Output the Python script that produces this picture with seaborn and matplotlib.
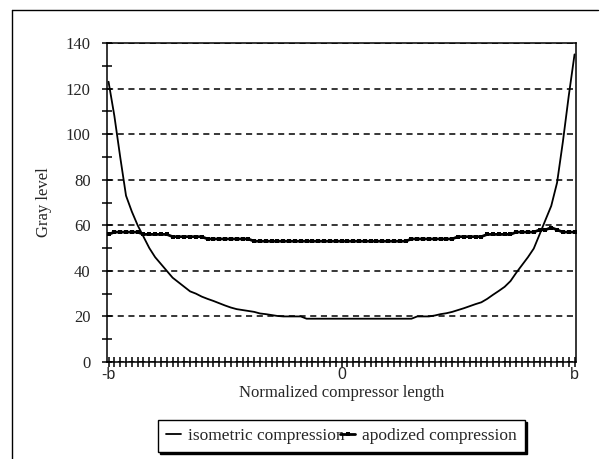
import matplotlib
matplotlib.use("Agg")
import matplotlib.pyplot as plt
import pandas as pd
import seaborn as sns
from matplotlib.lines import Line2D
from matplotlib.ticker import FixedLocator, MultipleLocator

# gray level along the compressor, one value per category tick (-b .. b)
isometric = [
    123, 108, 90, 73, 66, 60, 55, 50, 46, 43,
    40, 37, 35, 33, 31, 30, 28.7, 27.7, 26.8, 25.8,
    24.8, 23.9, 23.2, 22.8, 22.4, 22, 21.3, 21, 20.6, 20.2,
    20, 20, 20, 20, 19, 19, 19, 19, 19, 19,
    19, 19, 19, 19, 19, 19, 19, 19, 19, 19,
    19, 19, 19, 20, 20, 20, 20.4, 21, 21.4, 22,
    22.8, 23.6, 24.5, 25.4, 26.2, 27.7, 29.5, 31.2, 33, 35.5,
    39.2, 42.6, 46, 49.8, 56, 62.3, 68.5, 78.7, 96.7, 116.7,
    135,
]
apodized = [
    56, 57, 57, 57, 57, 57, 56, 56, 56, 56,
    56, 55, 55, 55, 55, 55, 55, 54, 54, 54,
    54, 54, 54, 54, 54, 53, 53, 53, 53, 53,
    53, 53, 53, 53, 53, 53, 53, 53, 53, 53,
    53, 53, 53, 53, 53, 53, 53, 53, 53, 53,
    53, 53, 54, 54, 54, 54, 54, 54, 54, 54,
    55, 55, 55, 55, 55, 56, 56, 56, 56, 56,
    57, 57, 57, 57, 58, 58, 59, 58, 57, 57,
    57,
]
series_names = ["isometric compression", "apodized compression"]
x_label_pos = [0, 40, 80]
x_labels = ["-b", "0", "b"]
y_ticks = [0, 20, 40, 60, 80, 100, 120, 140]

sns.set_style("ticks")
plt.rcParams["font.family"] = ["Liberation Serif", "DejaVu Serif"]

positions = list(range(len(isometric)))
df = pd.DataFrame({"pos": positions, series_names[0]: isometric, series_names[1]: apodized})

W, H = 607, 459
fig = plt.figure(figsize=(W / 100, H / 100), dpi=100)
ax = fig.add_axes([106.5 / W, 1 - 362 / H, (576 - 106.5) / W, (362 - 43) / H])

sns.lineplot(data=df, x="pos", y=series_names[0], color="black", lw=1.3,
             label=series_names[0], ax=ax)
sns.lineplot(data=df, x="pos", y=series_names[1], color="black", lw=2.0,
             marker="s", markersize=2.4, markeredgewidth=0,
             label=series_names[1], ax=ax)

ax.set_xlim(-0.35, len(positions) - 1 + 0.25)
ax.set_ylim(0, 140)

ax.xaxis.set_major_locator(FixedLocator(x_label_pos))
ax.set_xticklabels(x_labels, fontfamily="Liberation Sans", fontsize=11.5)
ax.xaxis.set_minor_locator(FixedLocator(positions))
ax.set_yticks(y_ticks)
ax.yaxis.set_minor_locator(MultipleLocator(10))
ax.tick_params(axis="both", which="both", direction="inout", length=7,
               width=1.1, color="black")
ax.tick_params(axis="y", which="major", labelsize=12, pad=8)
ax.tick_params(axis="x", which="major", pad=0)

ax.yaxis.grid(True, which="major", color="black", lw=1.1, ls=(0, (4, 3)))
ax.set_axisbelow(True)
for side in ["left", "right", "top", "bottom"]:
    ax.spines[side].set_visible(True)
    ax.spines[side].set_color("black")
    ax.spines[side].set_linewidth(1.1)

ax.set_xlabel("Normalized compressor length", fontsize=12, labelpad=2)
ax.set_ylabel("Gray level", fontsize=12, labelpad=10)

handles, labels = ax.get_legend_handles_labels()
leg = ax.legend(handles, labels, ncol=2, loc="center",
                bbox_to_anchor=(341.5 / W, 1 - 436 / H),
                bbox_transform=fig.transFigure, frameon=True, fancybox=False,
                edgecolor="black",
                shadow={"ox": 1.5, "oy": -1.5, "color": "black", "alpha": 1},
                fontsize=12.5, handlelength=0.9, handletextpad=0.4,
                columnspacing=-0.3, borderpad=0.45, borderaxespad=0)
leg.get_frame().set_linewidth(1)

# outer frame of the scanned figure
fig.add_artist(Line2D([12 / W, 12 / W], [0, 1 - 10 / H], transform=fig.transFigure,
                      color="black", lw=1))
fig.add_artist(Line2D([12 / W, 598 / W], [1 - 10 / H, 1 - 10 / H],
                      transform=fig.transFigure, color="black", lw=1))

fig.savefig("out.png", dpi=100)
